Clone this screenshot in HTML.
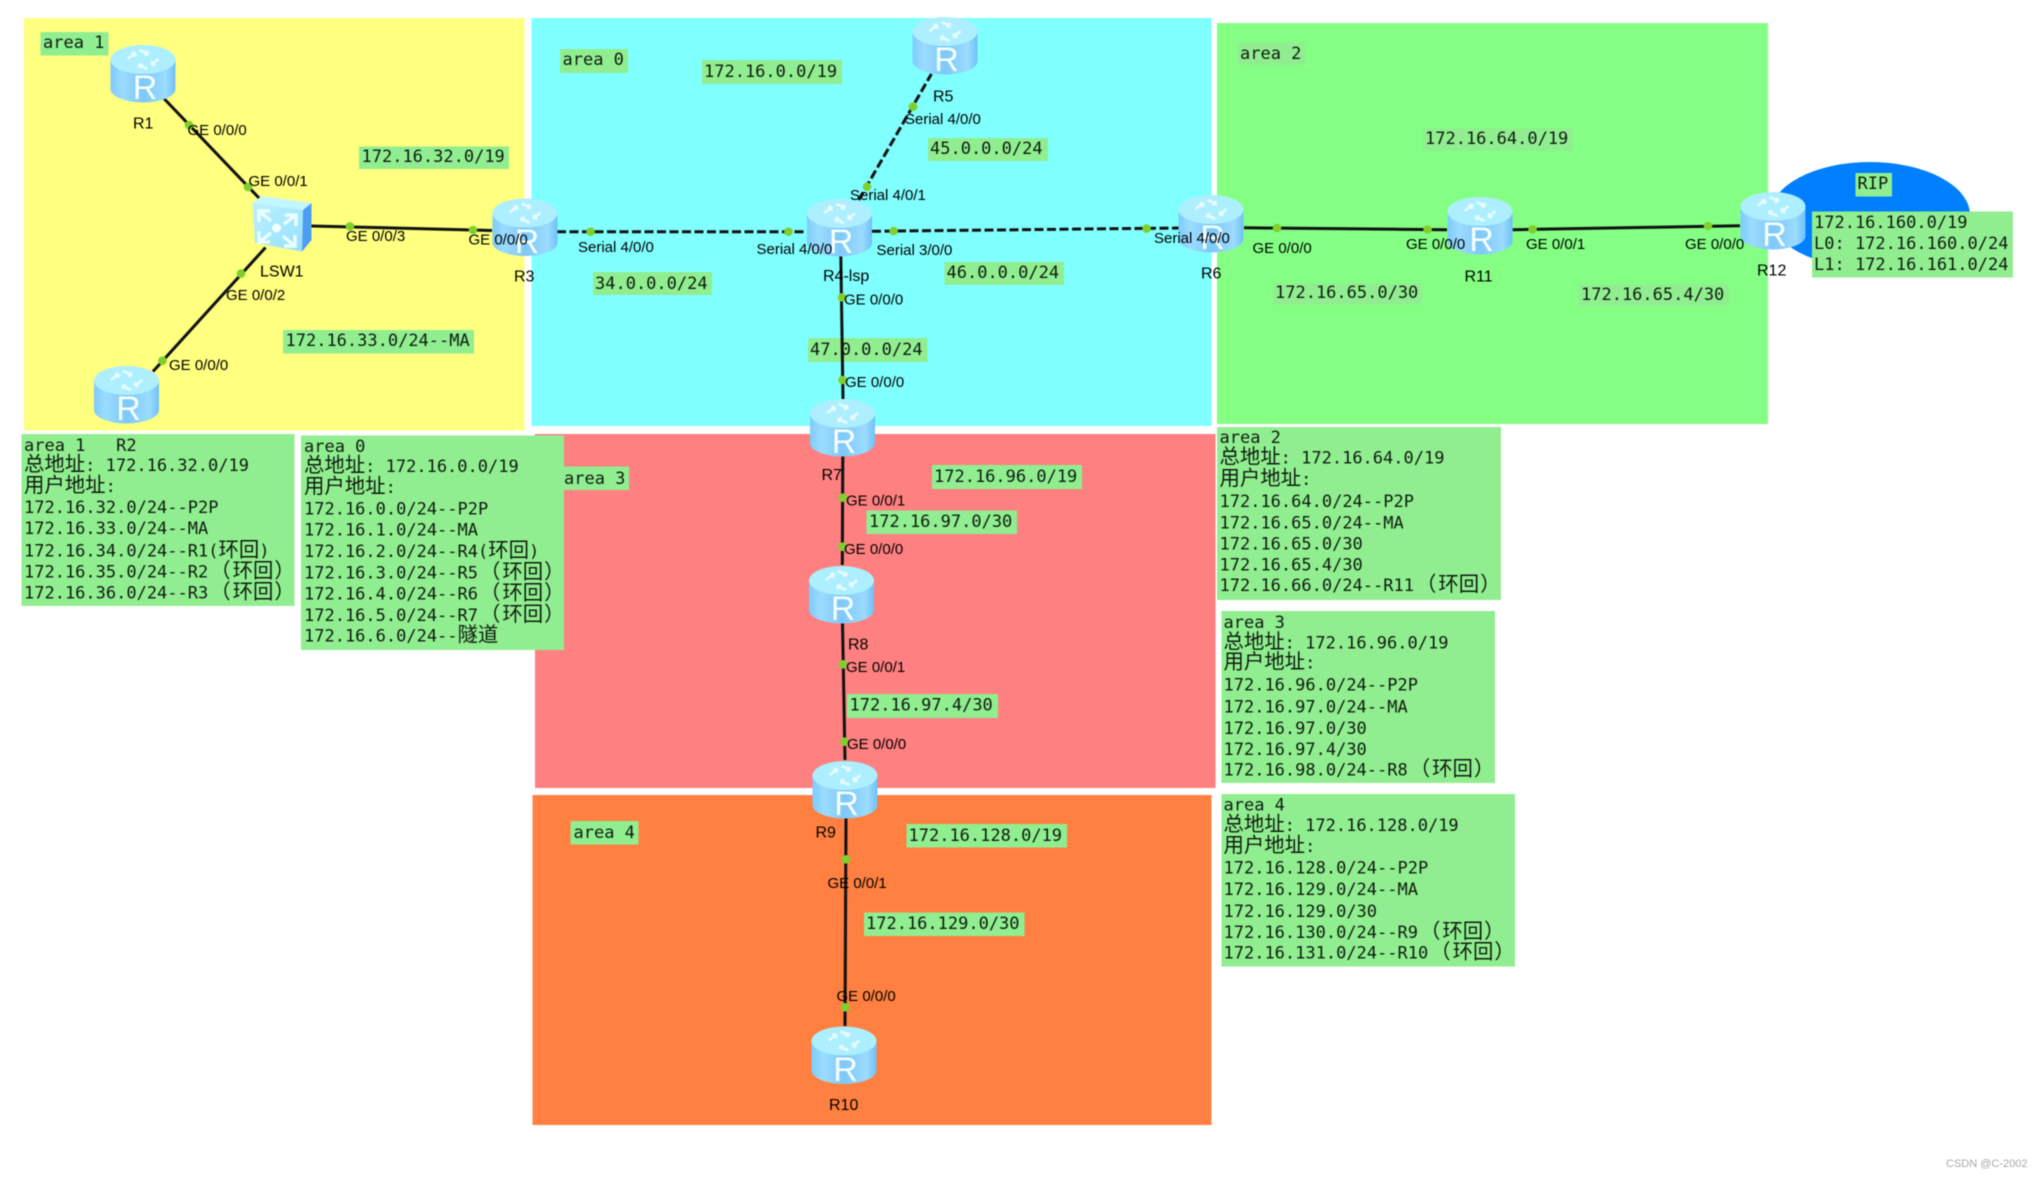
<!DOCTYPE html>
<html><head><meta charset="utf-8"><style>
html,body{margin:0;padding:0;background:#fff;width:2044px;height:1177px;overflow:hidden}
svg{display:block;filter:blur(.55px)}
.m{font:17px "DejaVu Sans Mono","Noto Sans CJK SC",monospace;fill:#0f1c0f;white-space:pre}
.c{font-size:20.4px;font-family:"Noto Sans CJK SC","WenQuanYi Zen Hei",sans-serif}
.a{font:15px "Liberation Sans",sans-serif;fill:#000}
.n{font-size:16px}
.l{fill:#90EE90}
.w{stroke:#111;stroke-width:3;fill:none}
.d{stroke-dasharray:9 3.5}
.p{fill:#7fd02c}
.R{font:34px "Liberation Sans",sans-serif;fill:#f4ffff;text-anchor:middle}
</style></head><body>
<svg width="2044" height="1177" viewBox="0 0 2044 1177" xmlns="http://www.w3.org/2000/svg">
<defs>
<linearGradient id="b" x1="0" x2="1" y1="0" y2="0"><stop offset="0" stop-color="#7ecbfb"/><stop offset=".18" stop-color="#9bdcff"/><stop offset=".5" stop-color="#7fc8f8"/><stop offset=".85" stop-color="#9bdcff"/><stop offset="1" stop-color="#6fc0f6"/></linearGradient>
<linearGradient id="f" x1="0" x2="1" y1="0" y2="1"><stop offset="0" stop-color="#b8f2ff"/><stop offset="1" stop-color="#98dffd"/></linearGradient>
<g id="r">
<path d="M0 14V44A32.5 13.5 0 0 0 65 44V14Z" fill="url(#b)"/>
<ellipse cx="32.500" cy="14.500" rx="32.500" ry="14.500" fill="#aeefff"/>
<g stroke="#e9fcff" stroke-width="2.600" fill="none" opacity=".95">
<path d="M17 14l8-6M25 8l-1 4M25 8l-4 0"/><path d="M29 5l9 4M38 9l-4 1M38 9l-2-3"/><path d="M48 14l-7 6M41 20l1-4M41 20l4 0"/><path d="M37 24l-9-4M28 20l4-1M28 20l2 3"/>
</g>
</g>
</defs>

<rect x="24" y="18" width="500.500" height="412.500" fill="#FFFF80"/>
<rect x="531.500" y="18" width="680" height="408" fill="#80FFFF"/>
<rect x="1217" y="23" width="551" height="401" fill="#84FF84"/>
<rect x="535" y="434" width="680.500" height="354" fill="#FF8080"/>
<rect x="532.500" y="795" width="679" height="330" fill="#FF8040"/>
<ellipse cx="1870" cy="215" rx="100" ry="53" fill="#0080FF"/>

<!-- panels -->
<rect class="l" x="21.500" y="434" width="273" height="172"/>
<rect class="l" x="301" y="435.500" width="263" height="214.500"/>
<rect class="l" x="1217" y="427" width="284" height="173"/>
<rect class="l" x="1221.500" y="611" width="273.500" height="172"/>
<rect class="l" x="1221.500" y="794" width="293.500" height="172.500"/>
<rect class="l" x="1812" y="211.500" width="201" height="66"/>

<!-- small labels -->
<rect class="l" x="40.500" y="32" width="68" height="23.500"/><text class="m" x="43" y="48">area 1</text>
<rect class="l" x="560" y="49" width="68" height="24"/><text class="m" x="562.500" y="65">area 0</text>
<rect class="l" x="359" y="146.500" width="150" height="22.500"/><text class="m" x="361.500" y="162">172.16.32.0/19</text>
<rect class="l" x="283" y="330" width="191" height="23.500"/><text class="m" x="285.500" y="346">172.16.33.0/24--MA</text>
<rect class="l" x="593" y="272" width="119" height="23"/><text class="m" x="595" y="289">34.0.0.0/24</text>
<rect class="l" x="702" y="60" width="140" height="24"/><text class="m" x="704" y="77">172.16.0.0/19</text>
<rect class="l" x="928" y="138" width="120" height="23"/><text class="m" x="930" y="154">45.0.0.0/24</text>
<rect class="l" x="944.500" y="262" width="119.500" height="23"/><text class="m" x="946.500" y="278">46.0.0.0/24</text>
<rect class="l" x="808" y="338" width="119.500" height="24"/><text class="m" x="810" y="355">47.0.0.0/24</text>
<rect class="l" x="1237.500" y="42.500" width="67.500" height="22.500"/><text class="m" x="1240" y="59">area 2</text>
<rect class="l" x="1423" y="128.500" width="150" height="22.500"/><text class="m" x="1425" y="144">172.16.64.0/19</text>
<rect class="l" x="1273.500" y="283" width="148.500" height="21.500"/><text class="m" x="1275" y="298">172.16.65.0/30</text>
<rect class="l" x="1579" y="284" width="149.500" height="22"/><text class="m" x="1581" y="300">172.16.65.4/30</text>
<rect class="l" x="1855.500" y="173" width="36.500" height="23.500"/><text class="m" x="1857.500" y="189">RIP</text>
<rect class="l" x="564" y="466.500" width="65" height="23.500"/><text class="m" x="564" y="484">area 3</text>
<rect class="l" x="932" y="465" width="150" height="24"/><text class="m" x="934" y="482">172.16.96.0/19</text>
<rect class="l" x="866.500" y="510.500" width="150.500" height="23.500"/><text class="m" x="869" y="527">172.16.97.0/30</text>
<rect class="l" x="847" y="694" width="151" height="24"/><text class="m" x="849.500" y="710.500">172.16.97.4/30</text>
<rect class="l" x="570.500" y="821" width="68" height="23.500"/><text class="m" x="573.500" y="838">area 4</text>
<rect class="l" x="906.500" y="824" width="160.500" height="23.500"/><text class="m" x="908.500" y="841">172.16.128.0/19</text>
<rect class="l" x="864" y="912.500" width="160.500" height="23.500"/><text class="m" x="866" y="929">172.16.129.0/30</text>

<!-- panel text -->
<text class="m" x="24" y="451">area 1   R2</text>
<text class="m" x="24" y="471"><tspan class="c">总地址</tspan>: 172.16.32.0/19</text>
<text class="m" x="24" y="492"><tspan class="c">用户地址</tspan>:</text>
<text class="m" x="24" y="513">172.16.32.0/24--P2P</text>
<text class="m" x="24" y="534">172.16.33.0/24--MA</text>
<text class="m" x="24" y="556.500">172.16.34.0/24--R1(<tspan class="c">环回</tspan>)</text>
<text class="m" x="24" y="577.500">172.16.35.0/24--R2<tspan class="c" dx="2">（<tspan dx="2">环回</tspan><tspan dx="1">）</tspan></tspan></text>
<text class="m" x="24" y="598.500">172.16.36.0/24--R3<tspan class="c" dx="2">（<tspan dx="2">环回</tspan><tspan dx="1">）</tspan></tspan></text>

<text class="m" x="304" y="452">area 0</text>
<text class="m" x="304" y="472"><tspan class="c">总地址</tspan>: 172.16.0.0/19</text>
<text class="m" x="304" y="493"><tspan class="c">用户地址</tspan>:</text>
<text class="m" x="304" y="514.500">172.16.0.0/24--P2P</text>
<text class="m" x="304" y="535.500">172.16.1.0/24--MA</text>
<text class="m" x="304" y="557">172.16.2.0/24--R4(<tspan class="c">环回</tspan>)</text>
<text class="m" x="304" y="578.500">172.16.3.0/24--R5<tspan class="c" dx="2">（<tspan dx="2">环回</tspan><tspan dx="1">）</tspan></tspan></text>
<text class="m" x="304" y="599.500">172.16.4.0/24--R6<tspan class="c" dx="2">（<tspan dx="2">环回</tspan><tspan dx="1">）</tspan></tspan></text>
<text class="m" x="304" y="621">172.16.5.0/24--R7<tspan class="c" dx="2">（<tspan dx="2">环回</tspan><tspan dx="1">）</tspan></tspan></text>
<text class="m" x="304" y="641.500">172.16.6.0/24--<tspan class="c">隧道</tspan></text>

<text class="m" x="1219.500" y="443">area 2</text>
<text class="m" x="1219.500" y="463.500"><tspan class="c">总地址</tspan>: 172.16.64.0/19</text>
<text class="m" x="1219.500" y="485"><tspan class="c">用户地址</tspan>:</text>
<text class="m" x="1219.500" y="507">172.16.64.0/24--P2P</text>
<text class="m" x="1219.500" y="528.500">172.16.65.0/24--MA</text>
<text class="m" x="1219.500" y="549.500">172.16.65.0/30</text>
<text class="m" x="1219.500" y="570.500">172.16.65.4/30</text>
<text class="m" x="1219.500" y="591">172.16.66.0/24--R11<tspan class="c" dx="2">（<tspan dx="2">环回</tspan><tspan dx="1">）</tspan></tspan></text>

<text class="m" x="1223.500" y="628">area 3</text>
<text class="m" x="1223.500" y="648.500"><tspan class="c">总地址</tspan>: 172.16.96.0/19</text>
<text class="m" x="1223.500" y="668.500"><tspan class="c">用户地址</tspan>:</text>
<text class="m" x="1223.500" y="690.500">172.16.96.0/24--P2P</text>
<text class="m" x="1223.500" y="712.500">172.16.97.0/24--MA</text>
<text class="m" x="1223.500" y="734">172.16.97.0/30</text>
<text class="m" x="1223.500" y="755">172.16.97.4/30</text>
<text class="m" x="1223.500" y="775.500">172.16.98.0/24--R8<tspan class="c" dx="2">（<tspan dx="2">环回</tspan><tspan dx="1">）</tspan></tspan></text>

<text class="m" x="1223.500" y="810.500">area 4</text>
<text class="m" x="1223.500" y="831"><tspan class="c">总地址</tspan>: 172.16.128.0/19</text>
<text class="m" x="1223.500" y="852"><tspan class="c">用户地址</tspan>:</text>
<text class="m" x="1223.500" y="873.500">172.16.128.0/24--P2P</text>
<text class="m" x="1223.500" y="895">172.16.129.0/24--MA</text>
<text class="m" x="1223.500" y="917">172.16.129.0/30</text>
<text class="m" x="1223.500" y="938">172.16.130.0/24--R9<tspan class="c" dx="2">（<tspan dx="2">环回</tspan><tspan dx="1">）</tspan></tspan></text>
<text class="m" x="1223.500" y="958.500">172.16.131.0/24--R10<tspan class="c" dx="2">（<tspan dx="2">环回</tspan><tspan dx="1">）</tspan></tspan></text>

<text class="m" x="1814" y="228">172.16.160.0/19</text>
<text class="m" x="1814" y="249">L0: 172.16.160.0/24</text>
<text class="m" x="1814" y="270">L1: 172.16.161.0/24</text>

<!-- links -->
<path class="w" d="M163 97.500L259 198M311.500 226L492 230.500M265.500 247.500L153 371.500M840.800 256L843 399M842.800 456L842.300 565M842.500 623L845 760M846 818L845 1026M1244 227.800L1447 229.700M1512.700 229.700L1740 225.800"/>
<path class="w d" d="M557 231.700H807M858.700 200L931.400 74M872 231.300L1178.600 228"/>

<!-- dots -->
<g class="p">
<circle cx="189" cy="125" r="4.300"/><circle cx="248" cy="187" r="4.300"/><circle cx="350" cy="226.400" r="4.300"/><circle cx="473" cy="230" r="4.300"/><circle cx="241" cy="273.600" r="4.300"/><circle cx="162.500" cy="360.700" r="4.300"/>
<circle cx="590.600" cy="231.700" r="4.300"/><circle cx="788.400" cy="231.700" r="4.300"/><circle cx="867" cy="186.700" r="4.300"/><circle cx="913" cy="106.700" r="4.300"/><circle cx="893.600" cy="231" r="4.300"/><circle cx="1146.600" cy="228.600" r="4.300"/>
<circle cx="842" cy="297.300" r="4.300"/><circle cx="842.500" cy="380" r="4.300"/><circle cx="842.800" cy="497.700" r="4.300"/><circle cx="842.500" cy="546.700" r="4.300"/><circle cx="843" cy="664.300" r="4.300"/><circle cx="844.700" cy="741.700" r="4.300"/><circle cx="846" cy="859.300" r="4.300"/><circle cx="845.300" cy="1007.300" r="4.300"/>
<circle cx="1277" cy="228" r="4.300"/><circle cx="1427.600" cy="229.500" r="4.300"/><circle cx="1532.600" cy="229.400" r="4.300"/><circle cx="1708" cy="226" r="4.300"/>
</g>

<!-- routers -->
<use href="#r" x="110.500" y="45"/><text class="R" x="145" y="99">R</text>
<use href="#r" x="94" y="366"/><text class="R" x="128.500" y="420">R</text>
<use href="#r" x="492.500" y="198.500"/><text class="R" x="527" y="253">R</text>
<use href="#r" x="807" y="199"/><text class="R" x="841" y="253">R</text>
<use href="#r" x="912.500" y="17"/><text class="R" x="946.500" y="71">R</text>
<use href="#r" x="1178.500" y="195"/><text class="R" x="1212.500" y="249">R</text>
<use href="#r" x="810" y="399"/><text class="R" x="844" y="453">R</text>
<use href="#r" x="809" y="566"/><text class="R" x="843" y="620">R</text>
<use href="#r" x="812.500" y="761"/><text class="R" x="846.500" y="815">R</text>
<use href="#r" x="811.500" y="1026.500"/><text class="R" x="845.500" y="1081">R</text>
<use href="#r" x="1447.500" y="197"/><text class="R" x="1481.500" y="251">R</text>
<use href="#r" x="1740.500" y="192"/><text class="R" x="1774.500" y="246">R</text>

<!-- switch -->
<polygon points="252.500,203 262,196 311.500,203 303,210" fill="#c4f6ff"/>
<polygon points="252.500,203 303,210 302,251.500 255,243" fill="url(#f)"/>
<polygon points="303,210 311.500,203 311.500,240 302,251.500" fill="#4f9df2"/>
<circle cx="276.500" cy="228" r="4.500" fill="#f2ffff"/>
<g stroke="#eaffff" stroke-width="3.400" fill="none">
<path d="M259 211l12 10M259 222v-11h11"/><path d="M296 215l-12 9M296 226v-11h-11"/><path d="M259 242l12-9M259 231v11h11"/><path d="M295 246l-12-10M295 235v11h-11"/>
</g>

<!-- interface and node labels -->
<g class="a">
<text x="187.500" y="135">GE 0/0/0</text><text x="248.500" y="186">GE 0/0/1</text><text x="346" y="241">GE 0/0/3</text><text x="468.500" y="244.500">GE 0/0/0</text><text x="226" y="300">GE 0/0/2</text><text x="169" y="370">GE 0/0/0</text>
<text class="n" x="133" y="128.500">R1</text><text class="n" x="260" y="276.500">LSW1</text><text class="n" x="514" y="281.500">R3</text>
<text x="578" y="252">Serial 4/0/0</text><text x="905" y="124">Serial 4/0/0</text><text x="850" y="200">Serial 4/0/1</text><text x="756.500" y="254">Serial 4/0/0</text><text x="876.500" y="255">Serial 3/0/0</text><text x="1154" y="243">Serial 4/0/0</text>
<text class="n" x="933" y="101.500">R5</text><text class="n" x="823" y="281">R4-lsp</text><text class="n" x="1201" y="278.500">R6</text>
<text x="844" y="304.500">GE 0/0/0</text><text x="845" y="387">GE 0/0/0</text>
<text x="1252.500" y="253">GE 0/0/0</text><text x="1406" y="249">GE 0/0/0</text><text x="1526" y="249">GE 0/0/1</text><text x="1685" y="249">GE 0/0/0</text>
<text class="n" x="1464.500" y="281.500">R11</text><text class="n" x="1757" y="275.500">R12</text>
<text class="n" x="821.500" y="480">R7</text><text x="846" y="505.500">GE 0/0/1</text><text x="844" y="554">GE 0/0/0</text><text class="n" x="848" y="649.500">R8</text><text x="846" y="672">GE 0/0/1</text><text x="847" y="749">GE 0/0/0</text>
<text class="n" x="815.500" y="837.500">R9</text><text x="827.500" y="888">GE 0/0/1</text><text x="836.500" y="1001">GE 0/0/0</text><text class="n" x="829" y="1110">R10</text>
</g>
<text x="1946" y="1167" style="font:11px 'Liberation Sans',sans-serif;fill:#a8a8a8">CSDN @C-2002</text>
</svg>
</body></html>
